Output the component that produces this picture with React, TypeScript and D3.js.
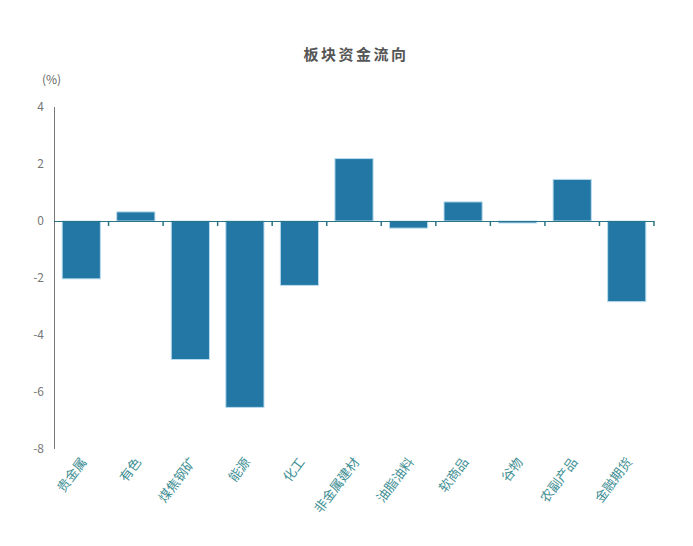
import React, { useEffect, useRef } from 'react';
import * as d3 from 'd3';

const categories = ['贵金属', '有色', '煤焦钢矿', '能源', '化工', '非金属建材', '油脂油料', '软商品', '谷物', '农副产品', '金融期货'];
const values = [-2.03, 0.32, -4.86, -6.54, -2.26, 2.19, -0.25, 0.67, -0.07, 1.46, -2.83];
const yTicks = [4, 2, 0, -2, -4, -6, -8];

const App = () => {
    const ref = useRef<SVGSVGElement>(null);

    useEffect(() => {
        const svg = d3.select(ref.current);
        svg.selectAll('*').remove();

        const x = d3.scaleBand().domain(categories).range([54, 654]).paddingInner(0.3).paddingOuter(0.15);
        const y = d3.scaleLinear().domain([-8, 4]).range([449, 107]);
        const font = '"Noto Sans CJK SC", "Noto Sans", sans-serif';

        // title
        svg.append('text')
            .attr('x', 356).attr('y', 60)
            .attr('text-anchor', 'middle')
            .attr('font-family', font)
            .attr('font-size', 15)
            .attr('font-weight', 'bold')
            .attr('letter-spacing', 2.5)
            .attr('fill', '#555')
            .text('板块资金流向');

        svg.append('text')
            .attr('x', 42).attr('y', 84)
            .attr('font-family', font)
            .attr('font-size', 12)
            .attr('fill', '#666')
            .text('(%)');

        // y axis
        svg.append('line')
            .attr('x1', 54.5).attr('x2', 54.5)
            .attr('y1', y(4)).attr('y2', y(-8))
            .attr('stroke', '#777');

        svg.selectAll('.ytick')
            .data(yTicks)
            .enter()
            .append('text')
            .attr('x', 44)
            .attr('y', d => y(d) + 4)
            .attr('text-anchor', 'end')
            .attr('font-family', font)
            .attr('font-size', 12)
            .attr('fill', '#777')
            .text(d => `${d}`);

        // bars
        svg.selectAll('rect.bar')
            .data(values)
            .enter()
            .append('rect')
            .attr('x', (d, i) => x(categories[i])!)
            .attr('width', x.bandwidth())
            .attr('y', d => y(Math.max(0, d)))
            .attr('height', d => Math.abs(y(d) - y(0)))
            .attr('fill', '#2277a5')
            .attr('stroke', '#b9dcef')
            .attr('stroke-width', 1);

        // x axis
        svg.append('line')
            .attr('x1', 54).attr('x2', 654)
            .attr('y1', y(0) + 0.5).attr('y2', y(0) + 0.5)
            .attr('stroke', '#2a7585')
            .attr('stroke-width', 1.2);

        svg.selectAll('.xtick')
            .data(d3.range(1, categories.length + 1))
            .enter()
            .append('line')
            .attr('x1', i => 54 + i * x.step())
            .attr('x2', i => 54 + i * x.step())
            .attr('y1', y(0)).attr('y2', y(0) + 5)
            .attr('stroke', '#2a7585')
            .attr('stroke-width', 1.5);

        svg.selectAll('.xlabel')
            .data(categories)
            .enter()
            .append('text')
            .attr('transform', d => `translate(${x(d)! + x.bandwidth() / 2 + 6}, ${y(-8) + 13}) rotate(-53)`)
            .attr('text-anchor', 'end')
            .attr('font-family', font)
            .attr('font-size', 13)
            .attr('fill', '#3f8f94')
            .text(d => d);
    }, []);

    return <svg ref={ref} width={693} height={546} style={{ position: 'absolute', left: 0, top: 0 }}></svg>;
};

export default App;
